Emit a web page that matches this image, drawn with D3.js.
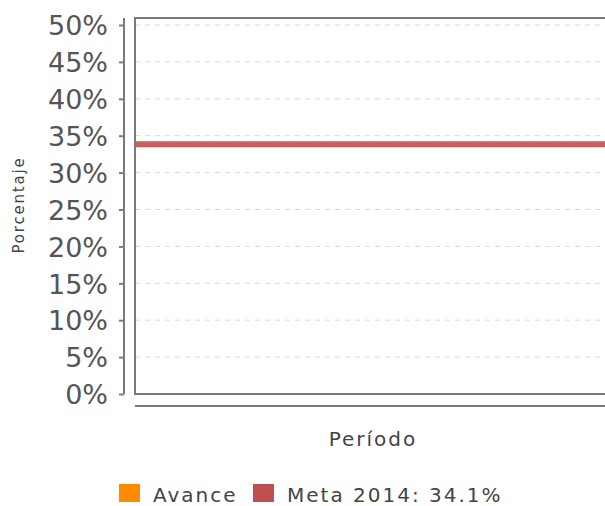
<!DOCTYPE html>
<html>
<head>
<meta charset="utf-8">
<script src="https://d3js.org/d3.v7.min.js"></script>
<style>
  body { margin: 0; background: #fff; }
  text { font-family: "DejaVu Sans", sans-serif; fill: #444; }
</style>
</head>
<body>
<svg width="605" height="506"></svg>
<script>
// chart data
const yTicks = [0, 5, 10, 15, 20, 25, 30, 35, 40, 45, 50];
const seriesNames = ["Avance", "Meta 2014: 34.1%"];
const seriesColors = ["#ff8c00", "#c0504d"];
const avanceValues = [];      // no progress values plotted
const metaValue = 34.1;

const svg = d3.select("svg");

const plotLeft = 135, plotRight = 606, plotTop = 18, plotBottom = 394;
const y = d3.scaleLinear().domain([0, 50]).range([plotBottom, 25]);

// dashed grid lines
svg.append("g")
  .selectAll("line")
  .data(yTicks.filter(d => d > 0))
  .enter().append("line")
  .attr("x1", plotLeft).attr("x2", plotRight)
  .attr("y1", d => y(d)).attr("y2", d => y(d))
  .attr("stroke", "#d8d8d8")
  .attr("stroke-width", 1)
  .attr("stroke-dasharray", "5,5");

// plot frame
svg.append("rect")
  .attr("x", plotLeft).attr("y", plotTop)
  .attr("width", plotRight - plotLeft + 5).attr("height", plotBottom - plotTop)
  .attr("fill", "none")
  .attr("stroke", "#7a7a7a")
  .attr("stroke-width", 2);

// meta line
svg.append("line")
  .attr("x1", plotLeft + 1).attr("x2", plotRight)
  .attr("y1", y(metaValue) + 2).attr("y2", y(metaValue) + 2)
  .attr("stroke", "#c9605c")
  .attr("stroke-width", 6);

// y axis
const yAxis = svg.append("g")
  .attr("transform", "translate(124,0)")
  .call(d3.axisLeft(y).tickValues(yTicks).tickSize(5).tickSizeOuter(0)
    .tickFormat(d => d + "%"));
yAxis.select(".domain").attr("stroke", "#7a7a7a").attr("stroke-width", 2)
  .attr("d", "M0," + plotTop + "V" + plotBottom);
yAxis.selectAll(".tick line").attr("stroke", "#7a7a7a").attr("stroke-width", 2);
yAxis.selectAll(".tick text")
  .attr("x", -16)
  .attr("dy", "0.36em")
  .style("font-size", "27px")
  .style("fill", "#555")
  .style("font-family", "'DejaVu Sans', sans-serif");

// x axis line
const x = d3.scalePoint().domain(avanceValues).range([plotLeft, plotRight]);
svg.append("line")
  .attr("x1", plotLeft).attr("x2", plotRight)
  .attr("y1", 406).attr("y2", 406)
  .attr("stroke", "#7a7a7a")
  .attr("stroke-width", 2);

// axis titles
svg.append("text")
  .attr("transform", "translate(24,205) rotate(-90)")
  .attr("text-anchor", "middle")
  .style("font-size", "15px")
  .style("letter-spacing", "1.8px")
  .text("Porcentaje");

svg.append("text")
  .attr("x", 373).attr("y", 446)
  .attr("text-anchor", "middle")
  .style("font-size", "20px")
  .style("letter-spacing", "2px")
  .text("Período");

// legend
const legendX = [119, 253];
const legend = svg.append("g");
legend.selectAll("rect")
  .data(seriesNames)
  .enter().append("rect")
  .attr("x", (d, i) => legendX[i]).attr("y", 484)
  .attr("width", 21).attr("height", 18)
  .attr("fill", (d, i) => seriesColors[i]);
legend.selectAll("text")
  .data(seriesNames)
  .enter().append("text")
  .attr("x", (d, i) => legendX[i] + 34).attr("y", 502)
  .style("font-size", "20px")
  .style("letter-spacing", "2px")
  .text(d => d);
</script>
</body>
</html>
